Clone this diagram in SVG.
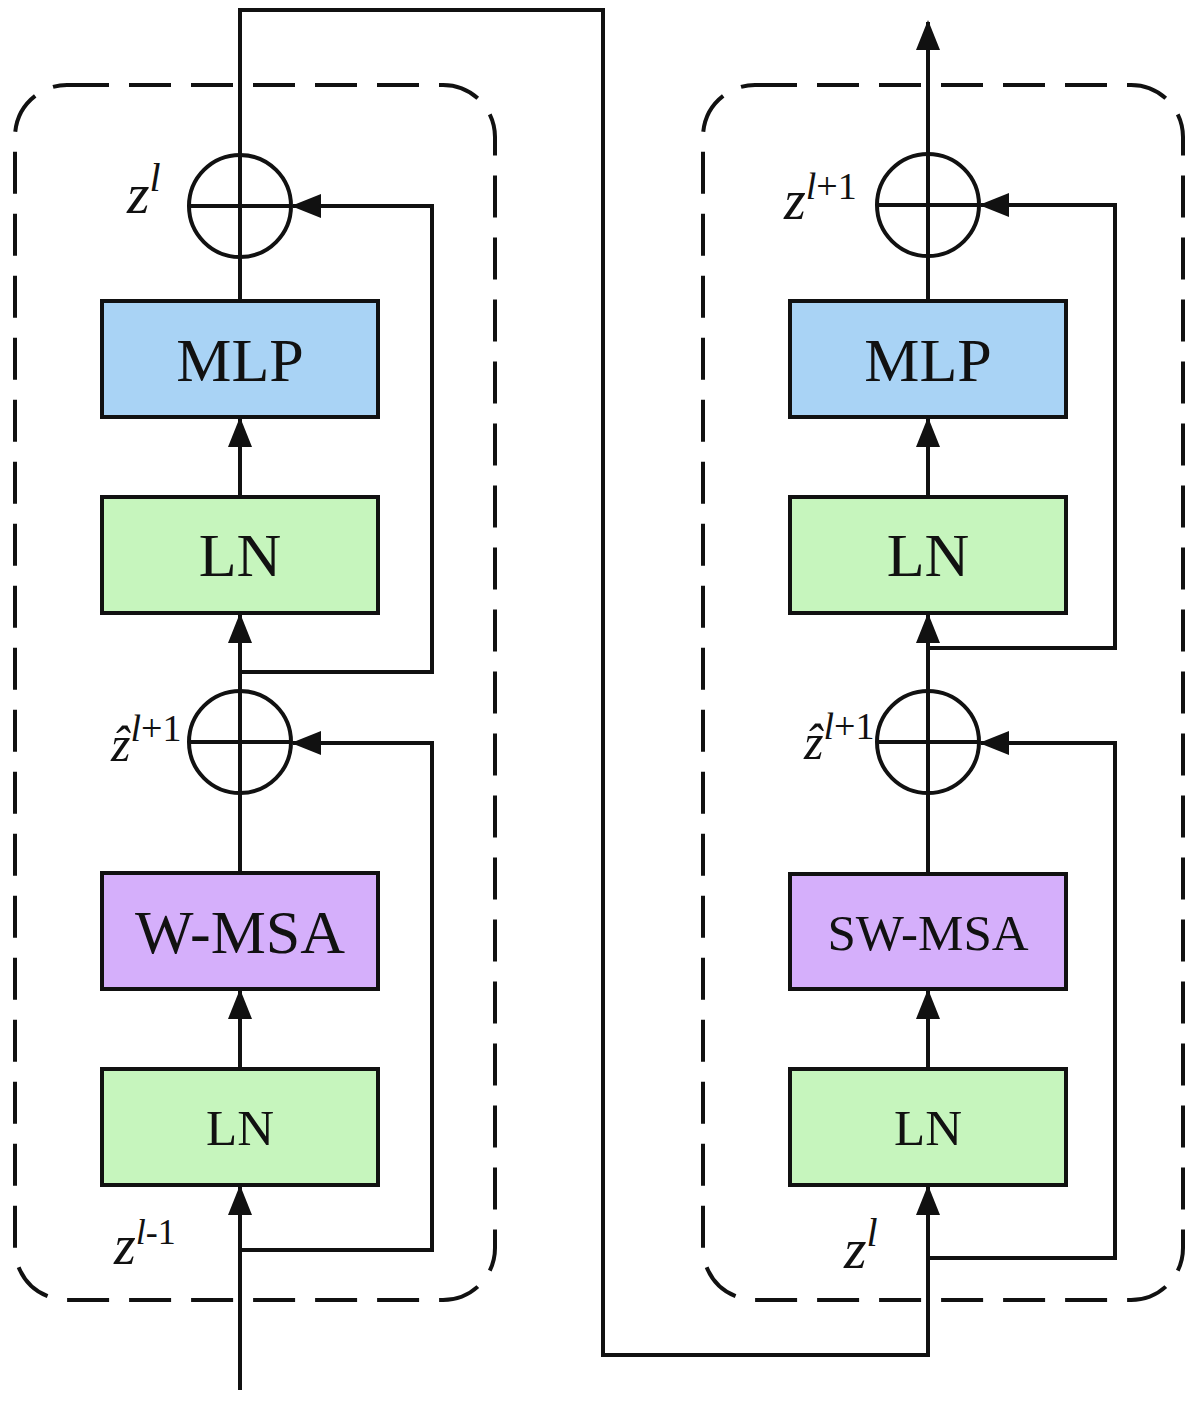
<svg xmlns="http://www.w3.org/2000/svg" width="1200" height="1401" viewBox="0 0 1200 1401">
<style>
.frame{fill:none;stroke:#111;stroke-width:4;stroke-dasharray:42 20}
.box{stroke:#111;stroke-width:4}
.mlp{fill:#a9d3f5}
.ln{fill:#c6f5bd}
.msa{fill:#d5affb}
.add{fill:#fff;stroke:#111;stroke-width:4}
.cross{stroke:#111;stroke-width:4}
.lbl{font-family:"Liberation Serif","Times New Roman",serif;fill:#111;text-anchor:middle}
.math{font-family:"Liberation Serif","Times New Roman",serif;font-style:italic;fill:#111}
.sup{font-family:"Liberation Serif","Times New Roman",serif;fill:#111}
.wire{fill:none;stroke:#111;stroke-width:4}
.arr{marker-end:url(#ah)}
</style>
<defs>
<marker id="ah" markerUnits="userSpaceOnUse" markerWidth="30" markerHeight="24" refX="28" refY="12" orient="auto">
<path d="M0,0 L30,12 L0,24 z" fill="#111"/>
</marker>
</defs>
<rect width="1200" height="1401" fill="#fff"/>

<g id="frame-left"><rect class="frame" x="15" y="85" width="480" height="1215" rx="52" ry="52"/></g>
<g id="frame-right"><rect class="frame" x="703" y="85" width="480" height="1215" rx="52" ry="52"/></g>

<g id="connectors">
<!-- left block -->
<path class="wire arr" d="M240,1390 L240,1187"/>
<path class="wire arr" d="M240,1250 L432,1250 L432,743 L293,743"/>
<path class="wire arr" d="M240,1069 L240,991"/>
<path class="wire" d="M240,873 L240,794"/>
<path class="wire arr" d="M240,690 L240,615"/>
<path class="wire arr" d="M240,672 L432,672 L432,206 L293,206"/>
<path class="wire arr" d="M240,497 L240,419"/>
<path class="wire" d="M240,301 L240,258"/>
<path class="wire arr" d="M240,154 L240,10 L603,10 L603,1355 L928,1355 L928,1187"/>
<!-- right block -->
<path class="wire arr" d="M928,1258 L1115,1258 L1115,743 L981,743"/>
<path class="wire arr" d="M928,1069 L928,991"/>
<path class="wire" d="M928,874 L928,794"/>
<path class="wire arr" d="M928,690 L928,615"/>
<path class="wire arr" d="M928,648 L1115,648 L1115,205 L981,205"/>
<path class="wire arr" d="M928,497 L928,419"/>
<path class="wire" d="M928,301 L928,257"/>
<path class="wire arr" d="M928,153 L928,22"/>
</g>

<!-- left nodes -->
<g id="add-l1"><circle class="add" cx="240" cy="206" r="51"/><line class="cross" x1="189" y1="206" x2="291" y2="206"/><line class="cross" x1="240" y1="155" x2="240" y2="257"/></g>
<g id="mlp-l"><rect class="box mlp" x="102" y="301" width="276" height="116"/><text class="lbl" x="240" y="381" font-size="62">MLP</text></g>
<g id="ln2-l"><rect class="box ln" x="102" y="497" width="276" height="116"/><text class="lbl" x="240" y="576" font-size="62">LN</text></g>
<g id="add-l2"><circle class="add" cx="240" cy="742" r="51"/><line class="cross" x1="189" y1="742" x2="291" y2="742"/><line class="cross" x1="240" y1="691" x2="240" y2="793"/></g>
<g id="wmsa"><rect class="box msa" x="102" y="873" width="276" height="116"/><text class="lbl" x="240" y="953" font-size="62">W-MSA</text></g>
<g id="ln1-l"><rect class="box ln" x="102" y="1069" width="276" height="116"/><text class="lbl" x="240" y="1145" font-size="51">LN</text></g>

<!-- right nodes -->
<g id="add-r1"><circle class="add" cx="928" cy="205" r="51"/><line class="cross" x1="877" y1="205" x2="979" y2="205"/><line class="cross" x1="928" y1="154" x2="928" y2="256"/></g>
<g id="mlp-r"><rect class="box mlp" x="790" y="301" width="276" height="116"/><text class="lbl" x="928" y="381" font-size="62">MLP</text></g>
<g id="ln2-r"><rect class="box ln" x="790" y="497" width="276" height="116"/><text class="lbl" x="928" y="576" font-size="62">LN</text></g>
<g id="add-r2"><circle class="add" cx="928" cy="742" r="51"/><line class="cross" x1="877" y1="742" x2="979" y2="742"/><line class="cross" x1="928" y1="691" x2="928" y2="793"/></g>
<g id="swmsa"><rect class="box msa" x="790" y="874" width="276" height="115"/><text class="lbl" x="928" y="950" font-size="51">SW-MSA</text></g>
<g id="ln1-r"><rect class="box ln" x="790" y="1069" width="276" height="116"/><text class="lbl" x="928" y="1145" font-size="51">LN</text></g>

<!-- labels -->
<g id="label-zl-left"><text x="127" y="213"><tspan class="math" font-size="58">z</tspan><tspan class="math" font-size="40" dy="-22">l</tspan></text></g>
<g id="label-zhat-left"><text x="111" y="761"><tspan class="math" font-size="50">ẑ</tspan><tspan class="math" font-size="38" dy="-20">l</tspan><tspan class="sup" font-size="38">+1</tspan></text></g>
<g id="label-zl1-left"><text x="114" y="1264"><tspan class="math" font-size="56">z</tspan><tspan class="math" font-size="36" dy="-20">l</tspan><tspan class="sup" font-size="36">-1</tspan></text></g>
<g id="label-zl1-right"><text x="784" y="219"><tspan class="math" font-size="56">z</tspan><tspan class="math" font-size="38" dy="-20">l</tspan><tspan class="sup" font-size="38">+1</tspan></text></g>
<g id="label-zhat-right"><text x="804" y="759"><tspan class="math" font-size="50">ẑ</tspan><tspan class="math" font-size="38" dy="-20">l</tspan><tspan class="sup" font-size="38">+1</tspan></text></g>
<g id="label-zl-right"><text x="844" y="1268"><tspan class="math" font-size="58">z</tspan><tspan class="math" font-size="40" dy="-22">l</tspan></text></g>
</svg>
